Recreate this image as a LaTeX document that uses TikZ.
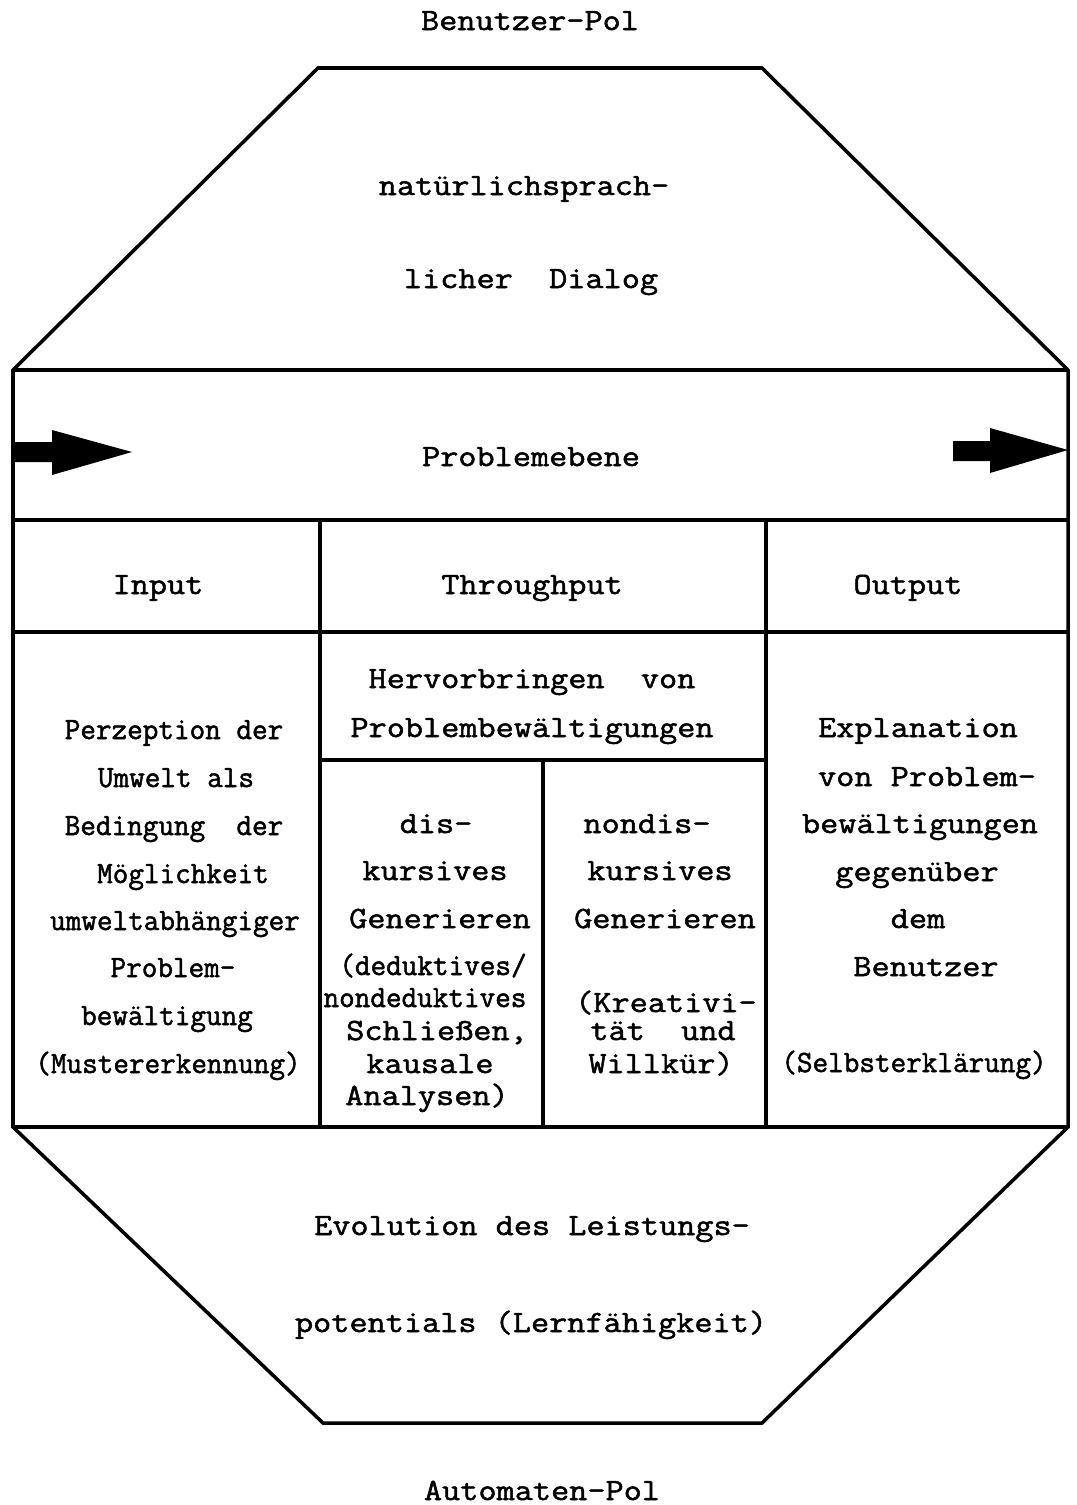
\documentclass[tikz,border=0pt]{standalone}
\usepackage{fontspec}
\newfontfamily\typefont[FakeStretch=1.14,FakeBold=1.6]{Latin Modern Mono}
\newfontfamily\altfont[FakeStretch=0.98,FakeBold=1.6]{Latin Modern Mono}
\usetikzlibrary{positioning}
\tikzstyle{frame} = [draw, line width=2pt, line join=miter]
\tikzstyle{typed} = [font=\typefont\fontsize{17.6}{20}\selectfont, inner sep=0pt, anchor=base]
\tikzstyle{typedalt} = [typed, font=\altfont\fontsize{17.6}{20}\selectfont]
\tikzstyle{bigarrow} = [fill=black]

\begin{document}
\begin{tikzpicture}[x=0.02cm, y=-0.02cm]
    \useasboundingbox (0,0) rectangle (1077,1505);

    % Outline of the octagon and the table inside
    \draw[frame] (318,68) -- (762,68) -- (1068,370) -- (1068,1127) -- (762,1423)
        -- (323,1423) -- (13,1127) -- (13,370) -- cycle;
    \foreach \y in {370, 520, 632, 1127}
        \draw[frame] (13,\y) -- (1068,\y);
    \draw[frame] (320,520) -- (320,1127);
    \draw[frame] (766,520) -- (766,1127);
    \draw[frame] (320,760) -- (766,760);
    \draw[frame] (543,760) -- (543,1127);

    % The two arrows on the Problemebene
    \fill[bigarrow] (13,442) -- (52,442) -- (52,430) -- (132,452) -- (52,475) -- (52,462) -- (13,462) -- cycle;
    \fill[bigarrow] (953,441) -- (990,441) -- (990,428) -- (1068,450) -- (990,473) -- (990,461) -- (953,461) -- cycle;

    % Typewritten lines
    \foreach \pos/\name/\text in {{(530,30)/bpol/Benutzer-Pol}, {(524,195)/nat1/natürlichsprach-}, {(531,288)/nat2/licher~~Dialog},
        {(531,466)/prob/Problemebene}, {(158,594)/inp/Input}, {(532,594)/thr/Throughput}, {(908,594)/outp/Output},
        {(532,688)/herv1/Hervorbringen~~von}, {(532,737)/herv2/Problembewältigungen},
        {(436,833)/dis1/dis-}, {(435,880)/dis2/kursives}, {(440,928)/dis3/Generieren},
        {(437,1040)/dis6/Schließen,}, {(430,1073)/dis7/kausale}, {(427,1105)/dis8/Analysen)},
        {(647,833)/ndis1/nondis-}, {(660,880)/ndis2/kursives}, {(665,928)/ndis3/Generieren},
        {(666,1012)/ndis4/(Kreativi-}, {(663,1040)/ndis5/tät~~und}, {(661,1073)/ndis6/Willkür)},
        {(918,737)/expl1/Explanation}, {(927,786)/expl2/von Problem-}, {(920,833)/expl3/bewältigungen},
        {(917,881)/expl4/gegenüber}, {(918,928)/expl5/dem}, {(926,976)/expl6/Benutzer},
        {(532,1235)/evo1/Evolution des Leistungs-}, {(531,1332)/evo2/potentials (Lernfähigkeit)},
        {(542,1500)/apol/Automaten-Pol}}
        \node[typed] (\name) at \pos {\text};

    \foreach \pos/\name/\text in {{(174,739)/perz1/Perzeption der}, {(176,787)/perz2/Umwelt als},
        {(174,835)/perz3/Bedingung~~der}, {(183,883)/perz4/Möglichkeit}, {(175,930)/perz5/umweltabhängiger},
        {(173,977)/perz6/Problem-}, {(167,1025)/perz7/bewältigung}, {(168,1073)/perz8/(Mustererkennung)},
        {(433,975)/dis4/{(deduktives/}}, {(425,1007)/dis5/nondeduktives}, {(914,1072)/expl7/(Selbsterklärung)}}
        \node[typedalt] (\name) at \pos {\text};

\end{tikzpicture}
\end{document}
